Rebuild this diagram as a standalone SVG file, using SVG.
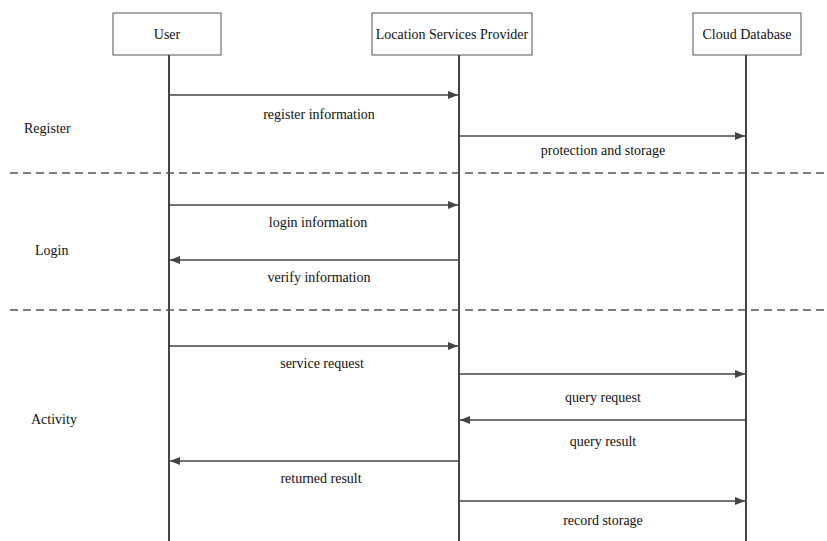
<svg xmlns="http://www.w3.org/2000/svg" width="827" height="541" viewBox="0 0 827 541">
<style>
text{font-family:"Liberation Serif","Times New Roman",serif;font-size:14px;fill:#111}
.box{fill:#fff;stroke:#555;stroke-width:1}
.life{stroke:#444;stroke-width:2;fill:none}
.msg{stroke:#444;stroke-width:1.3;fill:none;marker-end:url(#ah)}
.sep{stroke:#555;stroke-width:1.5;stroke-dasharray:8 5;fill:none}
.c{text-anchor:middle}
</style>
<defs>
<marker id="ah" markerWidth="10" markerHeight="8" refX="10" refY="4" orient="auto" markerUnits="userSpaceOnUse">
<path d="M0,0 L10,4 L0,8 Z" fill="#444"/>
</marker>
</defs>
<g id="lifelines">
<line class="life" x1="169" y1="55" x2="169" y2="541"/>
<line class="life" x1="459" y1="55" x2="459" y2="541"/>
<line class="life" x1="746" y1="55" x2="746" y2="541"/>
</g>
<g id="user"><rect class="box" x="113" y="13" width="108" height="42"/><text class="c" x="167" y="39">User</text></g>
<g id="lsp"><rect class="box" x="372" y="13" width="160" height="42"/><text class="c" x="452" y="39">Location Services Provider</text></g>
<g id="cloud"><rect class="box" x="693" y="13" width="108" height="42"/><text class="c" x="747" y="39">Cloud Database</text></g>
<g id="separators">
<line class="sep" x1="10" y1="173" x2="827" y2="173"/>
<line class="sep" x1="10" y1="310" x2="827" y2="310"/>
</g>
<g id="sections">
<text x="24" y="133">Register</text>
<text x="35" y="255">Login</text>
<text x="31" y="424">Activity</text>
</g>
<g id="connectors">
<line class="msg" x1="170" y1="95" x2="458" y2="95"/>
<line class="msg" x1="460" y1="136" x2="745" y2="136"/>
<line class="msg" x1="170" y1="205" x2="458" y2="205"/>
<line class="msg" x1="458" y1="260" x2="170" y2="260"/>
<line class="msg" x1="170" y1="346" x2="458" y2="346"/>
<line class="msg" x1="460" y1="374" x2="745" y2="374"/>
<line class="msg" x1="745" y1="420" x2="460" y2="420"/>
<line class="msg" x1="458" y1="461" x2="170" y2="461"/>
<line class="msg" x1="460" y1="501" x2="745" y2="501"/>
</g>
<g id="labels">
<text class="c" x="319" y="119">register information</text>
<text class="c" x="603" y="155">protection and storage</text>
<text class="c" x="318" y="227">login information</text>
<text class="c" x="319" y="282">verify information</text>
<text class="c" x="322" y="368">service request</text>
<text class="c" x="603" y="402">query request</text>
<text class="c" x="603" y="446">query result</text>
<text class="c" x="321" y="483">returned result</text>
<text class="c" x="603" y="525">record storage</text>
</g>
</svg>
